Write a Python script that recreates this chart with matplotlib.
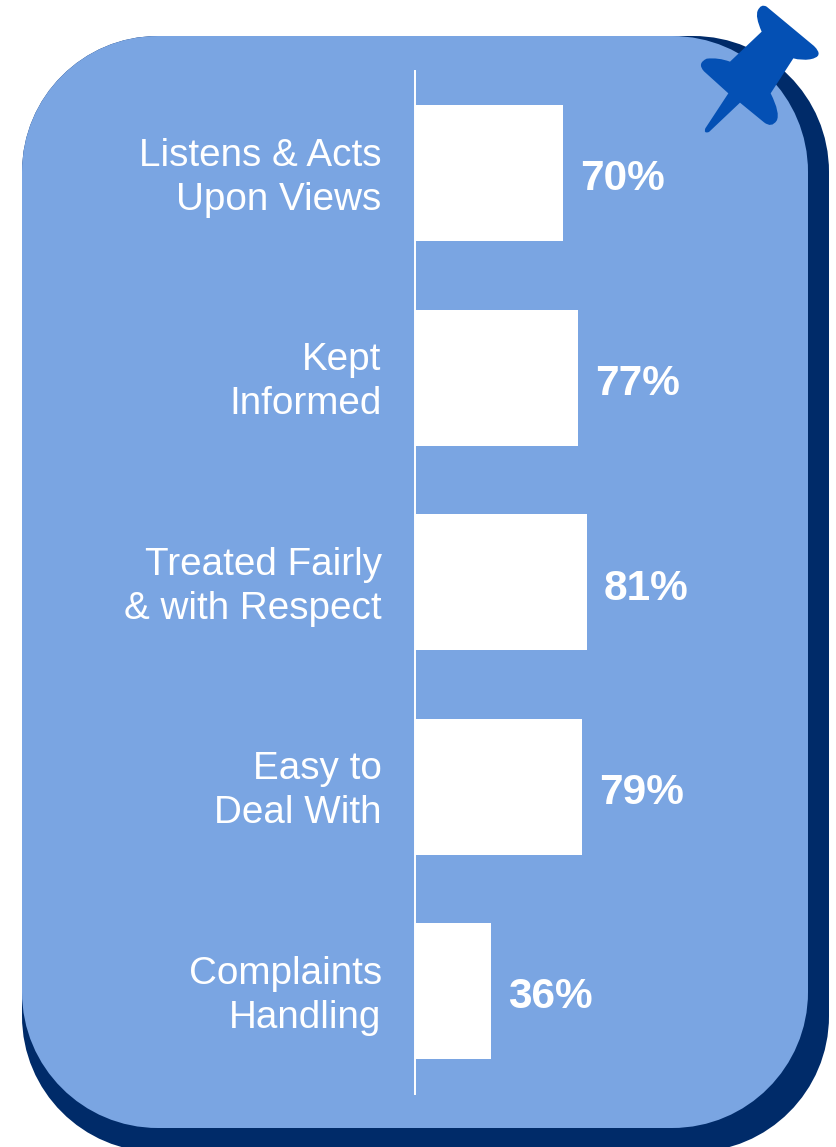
import matplotlib.pyplot as plt
from matplotlib.patches import PathPatch
from matplotlib.path import Path
from matplotlib.transforms import ScaledTranslation

labels = ['Listens & Acts\nUpon Views', 'Kept\nInformed', 'Treated Fairly\n& with Respect',
          'Easy to\nDeal With', 'Complaints\nHandling']
values = [70, 77, 81, 79, 36]

W, H = 836, 1147
LIGHT, DARK, PIN = '#7AA5E2', '#002B69', '#0450B4'

plt.rcParams['font.family'] = ['Liberation Sans', 'DejaVu Sans']
fig = plt.figure(figsize=(W / 100, H / 100), dpi=100)

# background in pixel coordinates
bg = fig.add_axes([0, 0, 1, 1])
bg.set(xlim=[0, W], ylim=[H, 0])
bg.axis('off')


def card(x0, y0, x1, y1, color):
    r = 136
    k = r * 0.4477
    v = [(x0 + r, y0), (x1 - r, y0),
         (x1 - k, y0), (x1, y0 + k), (x1, y0 + r),
         (x1, y1 - r),
         (x1, y1 - k), (x1 - k, y1), (x1 - r, y1),
         (x0 + r, y1),
         (x0 + k, y1), (x0, y1 - k), (x0, y1 - r),
         (x0, y0 + r),
         (x0, y0 + k), (x0 + k, y0), (x0 + r, y0)]
    c = [Path.MOVETO, Path.LINETO] + [Path.CURVE4] * 3 + [Path.LINETO] + [Path.CURVE4] * 3 + \
        [Path.LINETO] + [Path.CURVE4] * 3 + [Path.LINETO] + [Path.CURVE4] * 3
    bg.add_patch(PathPatch(Path(v, c), fc=color, ec='none'))


card(22, 36, 829, 1152, DARK)
card(22, 36, 808, 1128, LIGHT)

# pin
pin = [(Path.MOVETO, (320, 20)), (Path.LINETO, (462, 138)),
       (Path.CURVE3, (495, 170)), (Path.CURVE3, (450, 178)),
       (Path.CURVE3, (425, 182)), (Path.CURVE3, (400, 175)),
       (Path.LINETO, (332, 280)),
       (Path.CURVE3, (362, 340)), (Path.CURVE3, (350, 362)),
       (Path.CURVE3, (335, 385)), (Path.CURVE3, (312, 367)),
       (Path.LINETO, (240, 308)), (Path.LINETO, (147, 396)),
       (Path.CURVE3, (130, 402)), (Path.CURVE3, (136, 385)),
       (Path.LINETO, (205, 280)), (Path.LINETO, (132, 214)),
       (Path.CURVE3, (110, 190)), (Path.CURVE3, (140, 176)),
       (Path.CURVE3, (175, 172)), (Path.CURVE3, (210, 185)),
       (Path.LINETO, (305, 95)),
       (Path.CURVE3, (285, 50)), (Path.CURVE3, (293, 32)),
       (Path.CURVE3, (303, 10)), (Path.CURVE3, (320, 20)),
       (Path.CLOSEPOLY, (320, 20))]
codes = [c for c, _ in pin]
verts = [(660 + p[0] / 3, p[1] / 3) for _, p in pin]
bg.add_patch(PathPatch(Path(verts, codes), fc=PIN, ec='none', zorder=5))

# bars
ax = fig.add_axes([415 / W, 1 - 1093.5 / H, 400 / W, (1093.5 - 71) / H])
ax.patch.set_alpha(0)
bars = ax.barh(range(len(values)), values, height=0.665, color='white')
ax.set_xlim(0, 400 / 2.12)
ax.set_ylim(len(values) - 0.5, -0.5)
ax.set_xticks([])
ax.set_yticks(range(len(values)))
ax.set_yticklabels(labels, fontsize=27.8, color='white', linespacing=1.29)
ax.tick_params(axis='y', length=0, pad=24)
for t in ax.get_yticklabels():
    t.set_transform(t.get_transform() + ScaledTranslation(0, 0.035, fig.dpi_scale_trans))
for s in ['top', 'right', 'bottom']:
    ax.spines[s].set_visible(False)
ax.spines['left'].set_color('white')
ax.spines['left'].set_linewidth(1.4)
for a in ax.bar_label(bars, labels=[f'{v}%' for v in values], padding=13, fontsize=30.5,
                      fontweight='bold', color='white'):
    a.xyann = (12.3, -4.5)

fig.savefig('out.png', dpi=100)
